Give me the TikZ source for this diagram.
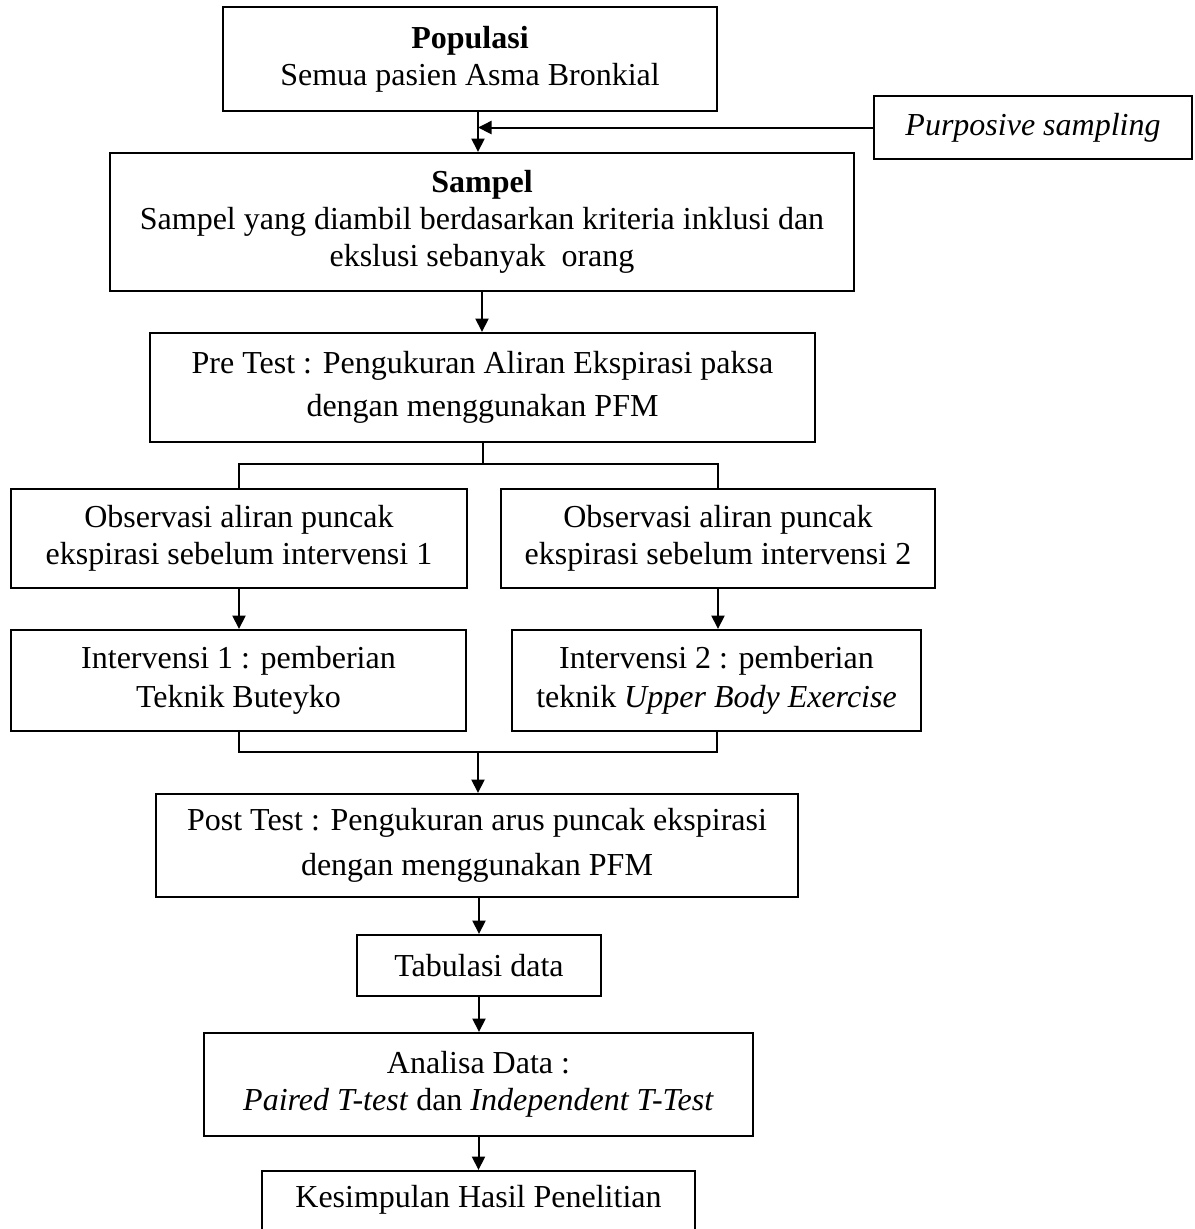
\documentclass[tikz,border=0pt]{standalone}
\usepackage{fontspec}
\setmainfont{Liberation Serif}
\usetikzlibrary{arrows.meta}

\begin{document}
\begin{tikzpicture}[x=0.4pt,y=-0.4pt,line width=0.8pt,
    arr/.style={-{Triangle[length=5.4pt,width=5.2pt]}}]

  \useasboundingbox (0,0) rectangle (1195,1229);

  \begin{scope}[every node/.style={draw,rectangle,align=center,inner sep=0pt,
      font=\fontsize{12.8}{14.8}\selectfont}]
    \node (pop)  at (470,59)     [minimum width=197.6pt,minimum height=41.6pt] {\textbf{Populasi}\\Semua pasien Asma Bronkial};
    \node (purp) at (1033,127.5) [minimum width=127.2pt,minimum height=25.2pt] {\textit{Purposive sampling}};
    \node (smp)  at (482,222)    [minimum width=297.6pt,minimum height=55.2pt] {\textbf{Sampel}\\Sampel yang diambil berdasarkan kriteria inklusi dan\\ekslusi sebanyak\ \ orang};
    \node (pre)  at (482.5,387.5) [minimum width=266pt,minimum height=43.6pt,font=\fontsize{12.8}{17.4}\selectfont] {Pre Test : Pengukuran Aliran Ekspirasi paksa\\dengan menggunakan PFM};
    \node (obs1) at (239,538.5)  [minimum width=182.4pt,minimum height=39.6pt] {Observasi aliran puncak\\ekspirasi sebelum intervensi 1};
    \node (obs2) at (718,538.5)  [minimum width=173.6pt,minimum height=39.6pt] {Observasi aliran puncak\\ekspirasi sebelum intervensi 2};
    \node (int1) at (238.5,680.5) [minimum width=182pt,minimum height=40.4pt,font=\fontsize{12.8}{15.6}\selectfont] {Intervensi 1 : pemberian\\Teknik Buteyko};
    \node (int2) at (716.5,680.5) [minimum width=163.6pt,minimum height=40.4pt,font=\fontsize{12.8}{15.6}\selectfont] {Intervensi 2 : pemberian\\teknik \textit{Upper Body Exercise}};
    \node (post) at (477,845.5)  [minimum width=256.8pt,minimum height=41.2pt,font=\fontsize{12.8}{17.8}\selectfont] {Post Test : Pengukuran arus puncak ekspirasi\\dengan menggunakan PFM};
    \node (tab)  at (479,965.5)  [minimum width=97.6pt,minimum height=24.4pt] {Tabulasi data};
    \node (ana)  at (478.5,1084.5) [minimum width=219.6pt,minimum height=41.2pt] {Analisa Data :\\\textit{Paired T-test} dan \textit{Independent T-Test}};
    \node (kes)  at (478.5,1202.5) [minimum width=173.2pt,minimum height=25.2pt,text depth=5pt] {Kesimpulan Hasil Penelitian};
  \end{scope}

  \coordinate (join) at (478,127.5);
  \coordinate (split) at (482.5,464);
  \coordinate (merge) at (478,752);

  % top
  \draw[arr] (pop.south -| join) -- (smp.north -| join);
  \draw[arr] (purp.west) -- (join);
  \draw[arr] (smp.south) -- (smp.south |- pre.north);

  % two groups
  \draw (pre.south) -- (split);
  \draw (obs1.north) |- (split) -| (obs2.north);
  \draw[arr] (obs1.south) -- (obs1.south |- int1.north);
  \draw[arr] (obs2.south) -- (obs2.south |- int2.north);
  \draw (int1.south) |- (merge) -| (int2.south);

  % bottom
  \draw[arr] (merge) -- (merge |- post.north);
  \draw[arr] (tab.north |- post.south) -- (tab.north);
  \draw[arr] (tab.south) -- (tab.south |- ana.north);
  \draw[arr] (ana.south) -- (ana.south |- kes.north);

\end{tikzpicture}
\end{document}
